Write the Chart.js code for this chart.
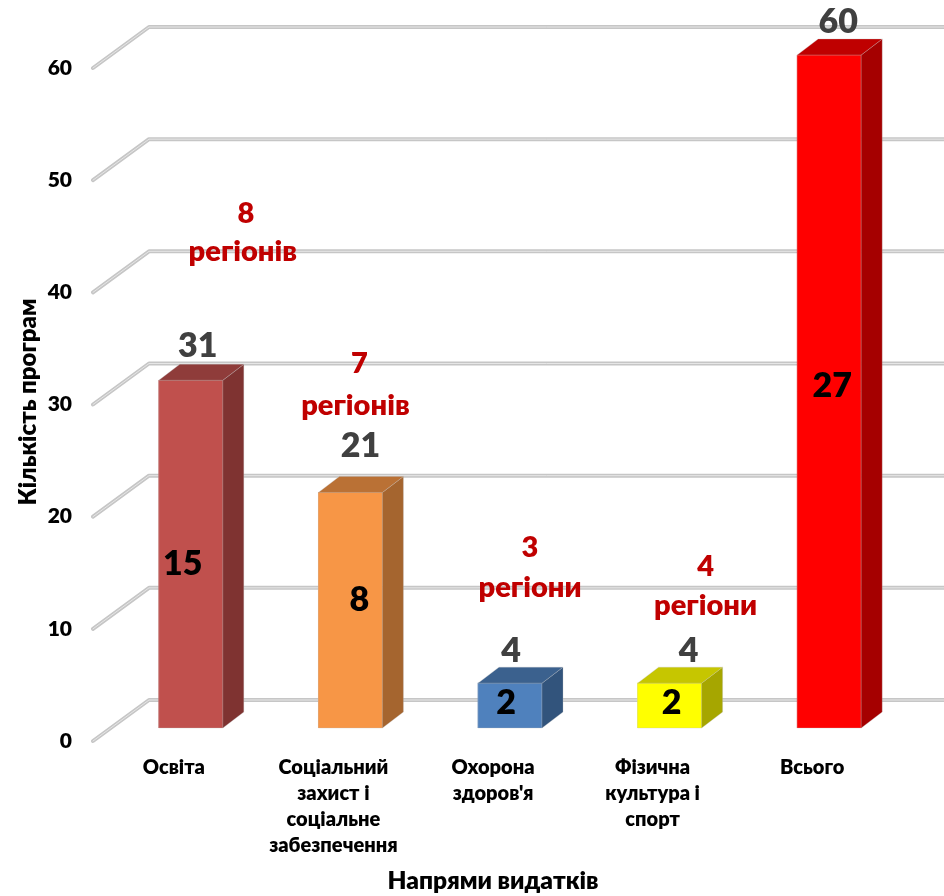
<!DOCTYPE html>
<html>
<head>
<meta charset="utf-8">
<style>
  html, body { margin: 0; padding: 0; background: #fff; }
  canvas { display: block; }
</style>
<script src="https://cdn.jsdelivr.net/npm/chart.js@4"></script>
</head>
<body>
<canvas id="chart" width="944" height="896"></canvas>
<script>
// data
const categories = [
    'Освіта',
    ['Соціальний', 'захист і', 'соціальне', 'забезпечення'],
    ['Охорона', "здоров'я"],
    ['Фізична', 'культура і', 'спорт'],
    'Всього'
];
const programCounts = [31, 21, 4, 4, 60];
const innerValues = [15, 8, 2, 2, 27];
const regionNumbers = ['8', '7', '3', '4', null];
const regionWords = ['регіонів', 'регіонів', 'регіони', 'регіони', null];
const yAxisTitle = 'Кількість програм';
const xAxisTitle = 'Напрями видатків';

// styles
const frontColors = ['#C0504D', '#F79646', '#4F81BD', '#FFFF00', '#FF0000'];
const sideColors = ['#7F3331', '#A5652F', '#32547C', '#A6A600', '#A50000'];
const topColors = ['#8F3C3A', '#BA7135', '#3B618E', '#C6C600', '#BF0000'];
const edgeColor = 'rgba(190, 190, 190, 0.3)';
const fontFamily = 'Lato, "Open Sans", sans-serif';

// how the manual labels sit against each bar (from the bar's front top edge / centre)
const valueLabelDx = [7, 10, 1, 19, 9];
const valueLabelDy = [-34, -46, -32, -32, -33];
const innerLabelDx = [-8, 9, -4, 2, 3];
const innerLabelY = [564, 600, 703, 703, 386];
const regionDx = [55, 9, 20, 36];
const regionNumberY = [214, 364, 548, 567];
const regionWordY = [252, 406, 588, 606];

// 3d look
const barDepth = { x: 21, y: -16 };
const wallFront = { x: -18, y: 13 };
const wallBack = { x: 38, y: -28 };

function drawText(ctx, text, x, y, font, color, rotation) {
    ctx.save();
    ctx.translate(x, y);
    if (rotation) ctx.rotate(rotation);
    ctx.font = font;
    ctx.fillStyle = color;
    ctx.textAlign = 'center';
    ctx.textBaseline = 'middle';
    ctx.fillText(text, 0, 0);
    ctx.restore();
}

function poly(ctx, points, color) {
    ctx.beginPath();
    points.forEach((p, i) => i ? ctx.lineTo(p[0], p[1]) : ctx.moveTo(p[0], p[1]));
    ctx.closePath();
    ctx.fillStyle = color;
    ctx.fill();
    ctx.lineWidth = 1;
    ctx.strokeStyle = edgeColor;
    ctx.stroke();
}

const walls = {
    id: 'walls',
    beforeDatasetsDraw(chart) {
        const { ctx, chartArea, scales } = chart;
        const left = chartArea.left;
        scales.y.ticks.forEach(tick => {
            const y = scales.y.getPixelForValue(tick.value);
            const path = () => {
                ctx.beginPath();
                ctx.moveTo(left + wallFront.x, y + wallFront.y);
                ctx.lineTo(left + wallBack.x, y + wallBack.y);
                ctx.lineTo(chart.width, y + wallBack.y);
            };
            ctx.save();
            ctx.lineCap = 'round';
            ctx.lineJoin = 'round';
            path();
            ctx.lineWidth = 4;
            ctx.strokeStyle = '#C6C6C6';
            ctx.stroke();
            path();
            ctx.lineWidth = 1;
            ctx.strokeStyle = '#E6E6E6';
            ctx.stroke();
            ctx.restore();
        });
    }
};

const barFaces = {
    id: 'barFaces',
    afterDatasetsDraw(chart) {
        const { ctx } = chart;
        chart.getDatasetMeta(0).data.forEach((bar, i) => {
            const right = bar.x + bar.width / 2;
            const l = bar.x - bar.width / 2;
            poly(ctx, [[l, bar.y], [right, bar.y], [right, bar.base], [l, bar.base]], frontColors[i]);
            poly(ctx, [[right, bar.y], [right + barDepth.x, bar.y + barDepth.y],
                [right + barDepth.x, bar.base + barDepth.y], [right, bar.base]], sideColors[i]);
            poly(ctx, [[l, bar.y], [l + barDepth.x, bar.y + barDepth.y],
                [right + barDepth.x, bar.y + barDepth.y], [right, bar.y]], topColors[i]);

            drawText(ctx, String(programCounts[i]), bar.x + valueLabelDx[i], bar.y + valueLabelDy[i],
                '800 34px ' + fontFamily, '#404040');
            drawText(ctx, String(innerValues[i]), bar.x + innerLabelDx[i], innerLabelY[i],
                '800 34px ' + fontFamily, '#000000');

            if (regionNumbers[i]) {
                drawText(ctx, regionNumbers[i], bar.x + regionDx[i], regionNumberY[i],
                    '800 29px ' + fontFamily, '#C00000');
                drawText(ctx, regionWords[i], bar.x + regionDx[i] - (i === 0 ? 3 : i === 1 ? 4 : 0), regionWordY[i],
                    '800 29px ' + fontFamily, '#C00000');
            }
        });

        drawText(ctx, yAxisTitle, 28, 402, '800 24px ' + fontFamily, '#000000', -Math.PI / 2);
        drawText(ctx, xAxisTitle, 493, 881, '800 24.5px ' + fontFamily, '#000000');
    }
};

new Chart(document.getElementById('chart').getContext('2d'), {
    type: 'bar',
    data: {
        labels: categories,
        datasets: [{
            data: programCounts,
            backgroundColor: frontColors,
            borderWidth: 0,
            barThickness: 64
        }]
    },
    options: {
        responsive: false,
        animation: false,
        layout: { padding: { top: 55, right: 35, left: 0, bottom: 0 } },
        plugins: {
            legend: { display: false },
            title: { display: false },
            tooltip: { enabled: false }
        },
        scales: {
            x: {
                grid: { display: false, drawTicks: false },
                border: { display: false },
                afterFit(scale) { scale.height = 168; },
                ticks: {
                    color: '#000000',
                    font: { family: fontFamily, size: 20, weight: 800, lineHeight: 1.31 },
                    labelOffset: -17,
                    padding: 26,
                    maxRotation: 0,
                    minRotation: 0,
                    autoSkip: false
                }
            },
            y: {
                min: 0,
                max: 60,
                grid: { display: false, drawTicks: false },
                border: { display: false },
                afterFit(scale) { scale.width = 111; },
                ticks: {
                    stepSize: 10,
                    color: '#000000',
                    font: { family: fontFamily, size: 21, weight: 800 },
                    labelOffset: 13,
                    padding: 39
                }
            }
        }
    },
    plugins: [walls, barFaces]
});
</script>
</body>
</html>
